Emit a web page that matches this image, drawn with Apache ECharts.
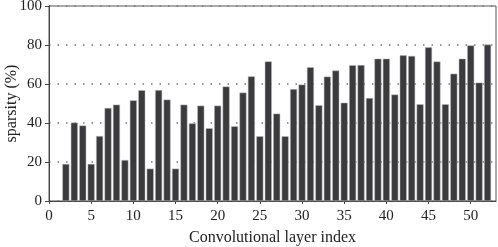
<!DOCTYPE html>
<html>
<head>
<meta charset="utf-8">
<script src="https://cdn.jsdelivr.net/npm/echarts@6/dist/echarts.min.js"></script>
<style>html,body{margin:0;padding:0;background:#fff}#c{width:498px;height:247px}</style>
</head>
<body>
<div id="c"></div>
<script>
const layerIndex = [2,3,4,5,6,7,8,9,10,11,12,13,14,15,16,17,18,19,20,21,22,23,24,25,26,27,28,29,30,31,32,33,34,35,36,37,38,39,40,41,42,43,44,45,46,47,48,49,50,51,52];
const sparsity = [19,40.2,38.7,19,33.3,47.7,49.4,21,51.6,56.8,16.6,56.9,52,16.6,49.4,39.8,48.9,37.3,48.9,58.7,38.3,55.6,63.9,33.2,71.6,44.8,33.2,57.4,59.7,68.6,49.1,63.8,66.9,50.4,69.6,69.7,52.8,73,73,54.6,74.7,74.4,49.6,78.8,71.5,49.6,65.3,73,79.8,60.7,80.2];
const yTicks = [0,20,40,60,80,100];
const xTickLabels = [0,5,10,15,20,25,30,35,40,45,50];

const font = '"Liberation Serif", "DejaVu Serif", serif';
const chart = echarts.init(document.getElementById('c'), null, {renderer:'canvas'});
chart.setOption({
  animation:false,
  grid:{left:49,right:2,top:6,bottom:46,outerBoundsMode:'none',containLabel:false,show:true,borderColor:'#555',borderWidth:1,backgroundColor:'transparent'},
  xAxis:{
    type:'value',min:0,max:53,interval:5,
    name:'Convolutional layer index',nameLocation:'middle',nameGap:29,nameMoveOverlap:false,
    nameTextStyle:{fontFamily:font,fontSize:16,color:'#222'},
    axisLine:{show:true,lineStyle:{color:'#444',width:1}},
    axisTick:{show:true,length:3,lineStyle:{color:'#444'}},
    axisLabel:{fontFamily:font,fontSize:15,color:'#222',margin:8,showMaxLabel:false,
      formatter:v=>xTickLabels.indexOf(v)>=0?String(v):''},
    splitLine:{show:false}
  },
  yAxis:{
    type:'value',min:0,max:100,interval:20,
    name:'sparsity (%)',nameLocation:'middle',nameGap:29,nameMoveOverlap:false,
    nameTextStyle:{fontFamily:font,fontSize:16,color:'#222'},
    axisLine:{show:true,lineStyle:{color:'#444',width:1}},
    axisTick:{show:true,length:4,lineStyle:{color:'#444'}},
    axisLabel:{fontFamily:font,fontSize:15,color:'#222',margin:7,
      formatter:v=>yTicks.indexOf(v)>=0?String(v):''},
    splitLine:{show:true,lineStyle:{color:'#777',type:[1.5,7],width:1.5}}
  },
  series:[{
    type:'bar',
    data:layerIndex.map((x,i)=>[x,sparsity[i]]),
    barWidth:7,
    itemStyle:{color:'#3b3b3e',borderColor:'#bbb',borderWidth:0.5}
  }]
});
</script>
</body>
</html>
